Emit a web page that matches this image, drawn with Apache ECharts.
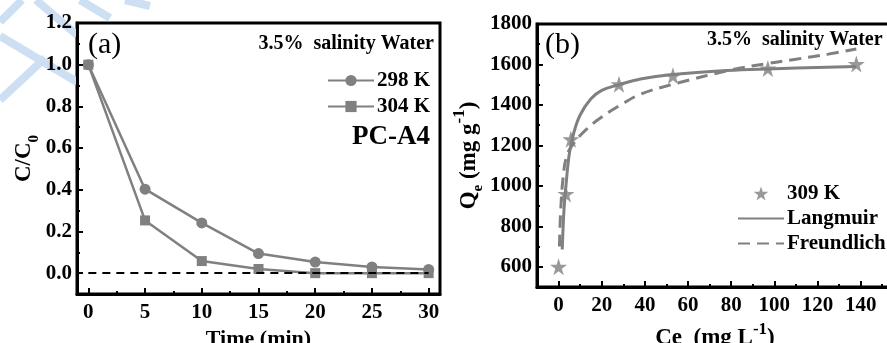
<!DOCTYPE html>
<html>
<head>
<meta charset="utf-8">
<script src="https://cdn.jsdelivr.net/npm/echarts@6/dist/echarts.min.js"></script>
<style>
html,body{margin:0;padding:0;background:#fff;}
#chart{width:887px;height:343px;}
</style>
</head>
<body>
<div id="chart"></div>
<script>
// ---- Data ----
const timeMin = [0, 5, 10, 15, 20, 25, 30];
const c298 = [1.0, 0.403, 0.241, 0.094, 0.053, 0.030, 0.018];
const c304 = [1.0, 0.253, 0.058, 0.020, 0.0, 0.0, 0.0];

const ceData = [0, 3.4, 5.7, 28, 53, 97, 138];
const qeData = [600, 960, 1230, 1502, 1544, 1580, 1602];

const langC = [1.7, 2.5, 3.5, 5, 7, 10, 15, 20, 28, 38, 53, 78, 97, 138];
const langQ = [685, 880, 1010, 1160, 1260, 1350, 1430, 1472, 1500, 1528, 1550, 1570, 1578, 1590];

const frC = [0.4, 1, 2, 3.7, 7, 13, 20, 28, 38, 53, 80, 97, 110, 125, 138];
const frQ = [700, 880, 1030, 1145, 1210, 1280, 1340, 1395, 1453, 1502, 1573, 1605, 1626, 1651, 1676];

const leftXTicks = [0, 5, 10, 15, 20, 25, 30];
const leftXMinor = [2.5, 7.5, 12.5, 17.5, 22.5, 27.5];
const leftYTicks = [0, 0.2, 0.4, 0.6, 0.8, 1.0, 1.2];
const leftYMinor = [0.1, 0.3, 0.5, 0.7, 0.9, 1.1];
const rightXTicks = [0, 20, 40, 60, 80, 100, 120, 140];
const rightXMinor = [10, 30, 50, 70, 90, 110, 130, 150];
const rightYTicks = [600, 800, 1000, 1200, 1400, 1600, 1800];
const rightYMinor = [700, 900, 1100, 1300, 1500, 1700];

const zip = (a, b) => a.map((v, i) => [v, b[i]]);

const FONT = '"Liberation Serif", "Times New Roman", serif';
const GRAY = '#808080';

function tickLabel(ticks, margin, fmt) {
  return {
    customValues: ticks, margin: margin,
    fontFamily: FONT, fontWeight: 'bold', fontSize: 21, color: '#000',
    formatter: v => fmt(v)
  };
}

function majorAxis(o) {
  return Object.assign({
    type: 'value',
    axisLine: {show: true, onZero: false, lineStyle: {color: '#000', width: 3}},
    axisTick: {show: true, inside: true, length: 6, lineStyle: {color: '#000', width: 2}, customValues: o.ticks},
    splitLine: {show: false}
  }, o.extra);
}
function minorAxis(o) {
  return Object.assign({
    type: 'value',
    axisLine: {show: false, onZero: false},
    axisTick: {show: true, inside: true, length: 3, lineStyle: {color: '#000', width: 2}, customValues: o.ticks},
    axisLabel: {show: false},
    splitLine: {show: false}
  }, o.extra);
}

const nameRich = {
  a: {fontFamily: FONT, fontWeight: 'bold', fontSize: 23, color: '#000'},
  s: {fontFamily: FONT, fontWeight: 'bold', fontSize: 15, color: '#000', verticalAlign: 'bottom', padding: [0, 0, -6, 0]},
  p: {fontFamily: FONT, fontWeight: 'bold', fontSize: 17, color: '#000', verticalAlign: 'top', padding: [-6, 0, 0, 0]}
};

const starPath = 'path://M50,0 L61.2,34.5 L97.6,34.5 L68.2,55.9 L79.4,90.5 L50,69.1 L20.6,90.5 L31.8,55.9 L2.4,34.5 L38.8,34.5 Z';

const option = {
  backgroundColor: '#fff',
  animation: false,
  textStyle: {fontFamily: FONT},
  grid: [
    {left: 77, right: 447, top: 23, bottom: 49, show: true, borderColor: '#000', borderWidth: 3, containLabel: false, outerBoundsMode: 'none'},
    {left: 537, right: -6, top: 24, bottom: 56, show: true, borderColor: '#000', borderWidth: 3, containLabel: false, outerBoundsMode: 'none'}
  ],
  xAxis: [
    majorAxis({ticks: leftXTicks, extra: {gridIndex: 0, position: 'bottom', min: -1, max: 31,
      name: 'Time (min)', nameLocation: 'middle', nameGap: 25,
      nameTextStyle: {fontFamily: FONT, fontWeight: 'bold', fontSize: 22, color: '#000'},
      axisLabel: tickLabel(leftXTicks, 8, v => String(v))}}),
    minorAxis({ticks: leftXMinor, extra: {gridIndex: 0, position: 'bottom', min: -1, max: 31}}),
    majorAxis({ticks: rightXTicks, extra: {gridIndex: 1, position: 'bottom', min: -10, max: 155,
      name: '{a|Ce  (mg L}{p|-1}{a|)}', nameLocation: 'middle', nameGap: 26,
      nameTextStyle: {rich: nameRich},
      axisLabel: tickLabel(rightXTicks, 8, v => String(v))}}),
    minorAxis({ticks: rightXMinor, extra: {gridIndex: 1, position: 'bottom', min: -10, max: 155}})
  ],
  yAxis: [
    majorAxis({ticks: leftYTicks, extra: {gridIndex: 0, position: 'left', min: -0.1, max: 1.2,
      name: '{a|C/C}{s|0}', nameLocation: 'middle', nameGap: 40, nameRotate: 90,
      nameTextStyle: {rich: nameRich},
      axisLabel: tickLabel(leftYTicks, 5, v => v.toFixed(1))}}),
    minorAxis({ticks: leftYMinor, extra: {gridIndex: 0, position: 'left', min: -0.1, max: 1.2}}),
    majorAxis({ticks: rightYTicks, extra: {gridIndex: 1, position: 'left', min: 500, max: 1800,
      name: '{a|Q}{s|e}{a| (mg g}{p|-1}{a|)}', nameLocation: 'middle', nameGap: 51, nameRotate: 90,
      nameTextStyle: {rich: nameRich},
      axisLabel: tickLabel(rightYTicks, 5, v => String(v))}}),
    minorAxis({ticks: rightYMinor, extra: {gridIndex: 1, position: 'left', min: 500, max: 1800}})
  ],
  legend: [
    {
      data: ['298 K', '304 K'], orient: 'vertical', left: 327, top: 70,
      itemWidth: 46, itemHeight: 14, itemGap: 5, padding: 0,
      textStyle: {fontFamily: FONT, fontWeight: 'bold', fontSize: 21, color: '#000', padding: [0, 0, 0, -2]}
    },
    {
      data: ['309 K', {name: 'Langmuir', itemStyle: {opacity: 0}}, {name: 'Freundlich', itemStyle: {opacity: 0}}],
      orient: 'vertical', left: 737, top: 183,
      itemWidth: 46, itemHeight: 14, itemGap: 4, padding: 0,
      textStyle: {fontFamily: FONT, fontWeight: 'bold', fontSize: 21, color: '#000', padding: [0, 0, 0, -2]}
    }
  ],
  series: [
    {
      type: 'line', name: 'zero', xAxisIndex: 0, yAxisIndex: 0, data: [], z: 1, silent: true,
      markLine: {
        silent: true, symbol: 'none', label: {show: false},
        lineStyle: {color: '#000', type: [8, 6], width: 2},
        data: [[{coord: [0, 0]}, {coord: [30, 0]}]]
      }
    },
    {
      type: 'line', name: '298 K', xAxisIndex: 0, yAxisIndex: 0, data: zip(timeMin, c298), z: 3,
      symbol: 'circle', symbolSize: 11, itemStyle: {color: GRAY}, lineStyle: {color: GRAY, width: 2.5}
    },
    {
      type: 'line', name: '304 K', xAxisIndex: 0, yAxisIndex: 0, data: zip(timeMin, c304), z: 3,
      symbol: 'rect', symbolSize: 10, itemStyle: {color: GRAY}, lineStyle: {color: GRAY, width: 2.5}
    },
    {
      type: 'line', name: 'Langmuir', xAxisIndex: 2, yAxisIndex: 2, data: zip(langC, langQ), z: 3,
      smooth: 0.4, symbol: 'none', itemStyle: {color: GRAY}, lineStyle: {color: GRAY, width: 3}
    },
    {
      type: 'line', name: 'Freundlich', xAxisIndex: 2, yAxisIndex: 2, data: zip(frC, frQ), z: 3,
      smooth: 0.4, symbol: 'none', itemStyle: {color: GRAY}, lineStyle: {color: GRAY, width: 3, type: [12, 7]}
    },
    {
      type: 'scatter', name: '309 K', xAxisIndex: 2, yAxisIndex: 2, data: zip(ceData, qeData), z: 4,
      symbol: starPath, symbolSize: 17, itemStyle: {color: GRAY}
    }
  ],
  graphic: [
    {type: 'group', z: -10, silent: true, children: [
      {type: 'polyline', shape: {points: [[0, 22], [22, 0]]}, style: {stroke: '#cddff2', lineWidth: 8, fill: null}},
      {type: 'polyline', shape: {points: [[0, 36], [77, 82]]}, style: {stroke: '#cddff2', lineWidth: 8, fill: null}},
      {type: 'polyline', shape: {points: [[0, 100], [45, 58]]}, style: {stroke: '#cddff2', lineWidth: 8, fill: null}},
      {type: 'polyline', shape: {points: [[36, 0], [77, 35]]}, style: {stroke: '#cddff2', lineWidth: 8, fill: null}},
      {type: 'polyline', shape: {points: [[80, 0], [110, 18]]}, style: {stroke: '#cddff2', lineWidth: 8, fill: null}},
      {type: 'polyline', shape: {points: [[125, 0], [150, 6]]}, style: {stroke: '#cddff2', lineWidth: 8, fill: null}}
    ]},
    {type: 'text', left: 88, top: 30, z: 10, style: {text: '(a)', fontFamily: FONT, fontSize: 30, fill: '#000'}},
    {type: 'text', x: 434, y: 44, z: 10, style: {text: '3.5%  salinity Water', align: 'right', verticalAlign: 'middle', fontFamily: FONT, fontWeight: 'bold', fontSize: 20, fill: '#000'}},
    {type: 'text', x: 430, y: 137, z: 10, style: {text: 'PC-A4', align: 'right', verticalAlign: 'middle', fontFamily: FONT, fontWeight: 'bold', fontSize: 27, fill: '#000'}},
    {type: 'text', left: 545, top: 30, z: 10, style: {text: '(b)', fontFamily: FONT, fontSize: 30, fill: '#000'}},
    {type: 'text', x: 707, y: 40, z: 10, style: {text: '3.5%  salinity Water', align: 'left', verticalAlign: 'middle', fontFamily: FONT, fontWeight: 'bold', fontSize: 20, fill: '#000'}}
  ]
};

const chart = echarts.init(document.getElementById('chart'), null, {renderer: 'canvas'});
chart.setOption(option);
</script>
</body>
</html>
